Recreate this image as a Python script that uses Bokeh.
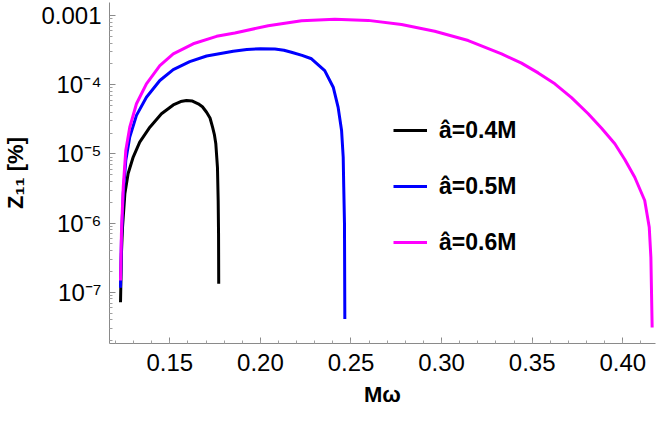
from bokeh.plotting import figure
from bokeh.models import FixedTicker, CustomJSTickFormatter, Legend, LegendItem, Range1d
from bokeh.embed import file_html
from bokeh.resources import INLINE

# ---- data ----
x_a04 = [0.1228, 0.1233, 0.1239, 0.1252, 0.1270, 0.1298, 0.1334, 0.1390, 0.1454,
         0.1519, 0.1560, 0.1592, 0.1625, 0.1657, 0.1680, 0.1703, 0.1722, 0.1736,
         0.1746, 0.1754, 0.1763, 0.1767, 0.1769, 0.1770]
y_a04 = [7.2e-8, 3.6e-7, 8.7e-7, 2.65e-6, 5.2e-6, 9.0e-6, 1.48e-5, 2.43e-5, 3.8e-5,
         5.1e-5, 5.7e-5, 5.9e-5, 5.8e-5, 5.3e-5, 4.8e-5, 4.0e-5, 3.3e-5, 2.43e-5,
         1.9e-5, 1.4e-5, 6.4e-6, 2.1e-6, 7.0e-7, 1.33e-7]

x_a05 = [0.1228, 0.1233, 0.1243, 0.1257, 0.1279, 0.1316, 0.1371, 0.1445, 0.1519,
         0.1610, 0.1703, 0.1850, 0.1925, 0.2000, 0.2080, 0.2130, 0.2171, 0.2230,
         0.2282, 0.2355, 0.2402, 0.2429, 0.2448, 0.2457, 0.2460, 0.2464, 0.2466]
y_a05 = [1.16e-7, 5.6e-7, 2.65e-6, 8.0e-6, 1.75e-5, 3.6e-5, 6.6e-5, 1.15e-4, 1.65e-4,
         2.15e-4, 2.6e-4, 3.05e-4, 3.22e-4, 3.32e-4, 3.28e-4, 3.15e-4, 2.95e-4, 2.65e-4,
         2.37e-4, 1.6e-4, 9.2e-5, 4.7e-5, 2.18e-5, 8.95e-6, 3.3e-6, 1.0e-6, 4.1e-8]

x_a06 = [0.1228, 0.1233, 0.1243, 0.1257, 0.1279, 0.1316, 0.1371, 0.1445, 0.1519,
         0.1629, 0.1758, 0.1859, 0.2043, 0.2227, 0.2411, 0.2595, 0.2779, 0.2962,
         0.3147, 0.3331, 0.3441, 0.3533, 0.3625, 0.3717, 0.3809, 0.3883, 0.3956,
         0.4011, 0.4066, 0.4121, 0.4146, 0.4155, 0.4162]
y_a06 = [1.48e-7, 7.1e-7, 3.3e-6, 1.12e-5, 2.43e-5, 5.3e-5, 1.03e-4, 1.89e-4, 2.79e-4,
         3.9e-4, 5.0e-4, 5.6e-4, 7.1e-4, 8.4e-4, 8.85e-4, 8.5e-4, 7.4e-4, 5.93e-4,
         4.35e-4, 2.79e-4, 2.05e-4, 1.48e-4, 1.03e-4, 6.5e-5, 3.8e-5, 2.35e-5, 1.4e-5,
         8.3e-6, 4.6e-6, 2.12e-6, 8.7e-7, 3.2e-7, 3.1e-8]

series_labels = ["\u00e2=0.4M", "\u00e2=0.5M", "\u00e2=0.6M"]
series_colors = ["#000000", "#0000ff", "#ff00ff"]

x_ticks = [0.15, 0.20, 0.25, 0.30, 0.35, 0.40]
x_minor = [round(0.12 + 0.01 * i, 2) for i in range(30)]
y_ticks = [1e-7, 1e-6, 1e-5, 1e-4, 1e-3]
y_minor = [k * 10.0 ** e for e in range(-8, -2) for k in range(2, 10)]

FONT = "Liberation Sans"

p = figure(width=656, height=413, output_backend="svg", toolbar_location=None,
           y_axis_type="log",
           x_range=Range1d(0.11672, 0.41805), y_range=Range1d(10 ** -7.740, 10 ** -2.8121),
           min_border_left=108, min_border_right=1, min_border_top=2, min_border_bottom=70)
p.outline_line_color = None
p.grid.visible = False
p.background_fill_color = "white"
p.border_fill_color = "white"

items = []
for xs, ys, lab, col in zip([x_a04, x_a05, x_a06], [y_a04, y_a05, y_a06],
                            series_labels, series_colors):
    r = p.line(xs, ys, line_color=col, line_width=3, line_join="round")
    items.append(LegendItem(label=lab, renderers=[r]))

for ax in (p.xaxis[0], p.yaxis[0]):
    ax.axis_line_color = "#8a8a8a"
    ax.major_tick_line_color = "#8a8a8a"
    ax.minor_tick_line_color = "#a0a0a0"
    ax.major_tick_in = 6
    ax.major_tick_out = 0
    ax.minor_tick_in = 3
    ax.minor_tick_out = 0
    ax.major_label_text_font = FONT
    ax.major_label_text_font_size = "24px"
    ax.major_label_text_color = "black"
    ax.axis_label_text_font = FONT
    ax.axis_label_text_font_size = "22px"
    ax.axis_label_text_font_style = "bold"
    ax.axis_label_text_color = "black"

p.xaxis.ticker = FixedTicker(ticks=x_ticks, minor_ticks=x_minor)
p.xaxis.formatter = CustomJSTickFormatter(code="return tick.toFixed(2);")
p.xaxis.major_label_standoff = 10
p.xaxis.axis_label = "M\u03c9"
p.xaxis.axis_label_standoff = 8

p.yaxis.ticker = FixedTicker(ticks=y_ticks, minor_ticks=y_minor)
p.yaxis.formatter = CustomJSTickFormatter(code="""
    const e = Math.round(Math.log10(tick));
    if (e >= -3) { return "0.001"; }
    const sup = {"-": "\u207b", "0": "\u2070", "1": "\u00b9", "2": "\u00b2", "3": "\u00b3",
                 "4": "\u2074", "5": "\u2075", "6": "\u2076", "7": "\u2077", "8": "\u2078", "9": "\u2079"};
    let s = "";
    for (const c of String(e)) { s += sup[c]; }
    return "10" + s;
""")
p.yaxis.major_label_standoff = 8
p.yaxis.axis_label = "Z\u2081\u2081 [%]"
p.yaxis.axis_label_standoff = 10

legend = Legend(items=items, location=(284, 86), orientation="vertical",
                glyph_width=34, glyph_height=30, label_height=30, spacing=26,
                label_standoff=12, padding=0, margin=0,
                border_line_color=None, background_fill_alpha=0,
                label_text_font=FONT, label_text_font_size="23px",
                label_text_font_style="bold", label_text_color="black")
p.add_layout(legend)

open("out.html", "w").write(file_html(p, INLINE))
